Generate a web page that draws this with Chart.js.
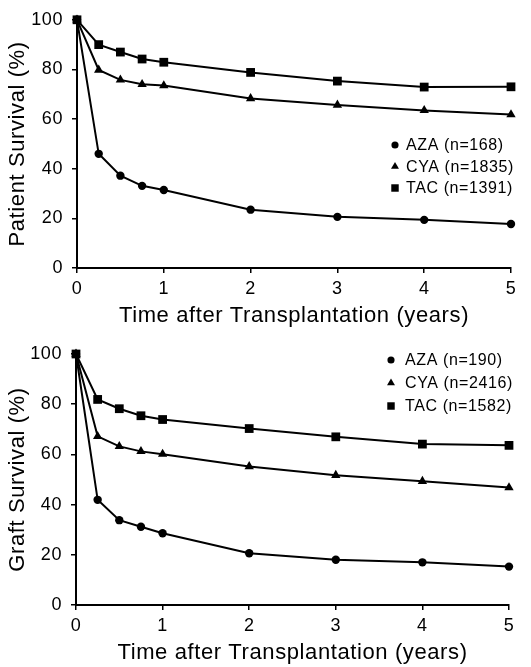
<!DOCTYPE html>
<html>
<head>
<meta charset="utf-8">
<script src="https://cdn.jsdelivr.net/npm/chart.js@4.4.1/dist/chart.umd.min.js"></script>
<style>
  body { margin: 0; background: #fff; }
  canvas { display: block; }
</style>
</head>
<body>
<canvas id="patient" width="531" height="330"></canvas>
<canvas id="graft" width="531" height="337"></canvas>
<script>
const years = [0, 0.25, 0.5, 0.75, 1, 2, 3, 4, 5];
const xTicks = [0, 1, 2, 3, 4, 5];
const yTicks = [0, 20, 40, 60, 80, 100];

const groups = ['AZA', 'CYA', 'TAC'];
const patientN = [168, 1835, 1391];
const graftN = [190, 2416, 1582];

// patient survival (%)
const patientAza = [100, 46.0, 37.2, 33.1, 31.4, 23.5, 20.6, 19.4, 17.7];
const patientCya = [100, 79.8, 75.8, 74.0, 73.5, 68.3, 65.7, 63.5, 61.8];
const patientTac = [100, 90.0, 87.0, 84.2, 82.9, 78.8, 75.3, 72.9, 73.0];

// graft survival (%)
const graftAza = [100, 41.9, 33.8, 31.2, 28.6, 20.6, 18.0, 17.0, 15.3];
const graftCya = [100, 67.2, 63.2, 61.2, 60.1, 55.2, 51.7, 49.3, 46.8];
const graftTac = [100, 81.9, 78.2, 75.4, 73.9, 70.3, 67.0, 64.1, 63.6];

const FONT = '"Liberation Sans", Arial, Helvetica, sans-serif';
const markers = [
  { style: 'circle', radius: 4.2 },
  { style: 'triangle', radius: 5.4 },
  { style: 'rect', radius: 6.2 }
];

function drawMarker(ctx, style, x, y, r) {
  ctx.beginPath();
  if (style === 'circle') {
    ctx.arc(x, y, r, 0, Math.PI * 2);
  } else if (style === 'triangle') {
    ctx.moveTo(x, y - r);
    ctx.lineTo(x + r * 0.866, y + r * 0.5);
    ctx.lineTo(x - r * 0.866, y + r * 0.5);
    ctx.closePath();
  } else {
    const s = r * Math.SQRT1_2;
    ctx.rect(x - s, y - s, 2 * s, 2 * s);
  }
  ctx.fill();
}

// the scanned figure's type is set a little loose
const looseText = {
  id: 'looseText',
  beforeLayout(chart) { chart.ctx.letterSpacing = '0.6px'; },
  beforeDraw(chart) { chart.ctx.letterSpacing = '0.6px'; }
};

// small legend drawn inside the plot, one row per dataset
const insideLegend = {
  id: 'insideLegend',
  afterDraw(chart, args, opts) {
    const ctx = chart.ctx;
    ctx.save();
    ctx.fillStyle = '#000';
    ctx.font = '16px ' + FONT;
    ctx.letterSpacing = '0.6px';
    ctx.textBaseline = 'middle';
    chart.data.datasets.forEach((ds, i) => {
      const y = opts.y + i * opts.gap;
      drawMarker(ctx, ds.pointStyle, opts.x, y, ds.pointRadius * 0.85);
      ctx.fillText(ds.label, opts.textX, y + 1);
    });
    ctx.restore();
  }
};

function makeChart(id, yTitle, series, nList, box, legendPos) {
  const datasets = series.map((vals, i) => ({
    label: groups[i] + ' (n=' + nList[i] + ')',
    data: years.map((t, j) => ({ x: t, y: vals[j] })),
    borderColor: '#000',
    backgroundColor: '#000',
    borderWidth: 2,
    pointStyle: markers[i].style,
    pointRadius: markers[i].radius,
    pointBackgroundColor: '#000',
    pointBorderWidth: 0,
    tension: 0,
    clip: false
  }));

  return new Chart(document.getElementById(id), {
    type: 'line',
    data: { datasets },
    plugins: [looseText, insideLegend],
    options: {
      responsive: false,
      animation: false,
      layout: { padding: { left: 0, top: box.top, right: box.right, bottom: 0 } },
      plugins: {
        legend: { display: false },
        tooltip: { enabled: false },
        insideLegend: legendPos
      },
      scales: {
        x: {
          type: 'linear',
          min: 0,
          max: 5,
          afterBuildTicks: (scale) => { scale.ticks = xTicks.map(v => ({ value: v })); },
          afterFit: (scale) => { scale.height = box.xHeight; },
          border: { color: '#000', width: 2 },
          grid: { drawOnChartArea: false, color: '#000', lineWidth: 1.5, tickLength: 5 },
          ticks: { color: '#000', padding: 5, font: { family: FONT, size: 18 } },
          title: {
            display: true,
            text: 'Time after Transplantation (years)',
            color: '#000',
            padding: { top: 0, bottom: 1 },
            font: { family: FONT, size: 22 }
          }
        },
        y: {
          min: 0,
          max: 100,
          afterBuildTicks: (scale) => { scale.ticks = yTicks.map(v => ({ value: v })); },
          afterFit: (scale) => { scale.width = box.left; },
          border: { color: '#000', width: 2 },
          grid: { drawOnChartArea: false, color: '#000', lineWidth: 1.5, tickLength: 5 },
          ticks: { color: '#000', padding: 9, font: { family: FONT, size: 18 } },
          title: {
            display: true,
            text: yTitle,
            color: '#000',
            padding: { top: 5, bottom: 0 },
            font: { family: FONT, size: 22 }
          }
        }
      }
    }
  });
}

makeChart('patient', 'Patient Survival (%)',
  [patientAza, patientCya, patientTac], patientN,
  { left: 77, top: 14, right: 20, xHeight: 62 },
  { x: 395, textX: 406, y: 145, gap: 21.5 });

makeChart('graft', 'Graft Survival (%)',
  [graftAza, graftCya, graftTac], graftN,
  { left: 76, top: 24, right: 22, xHeight: 62 },
  { x: 391, textX: 405, y: 30, gap: 23 });
</script>
</body>
</html>
